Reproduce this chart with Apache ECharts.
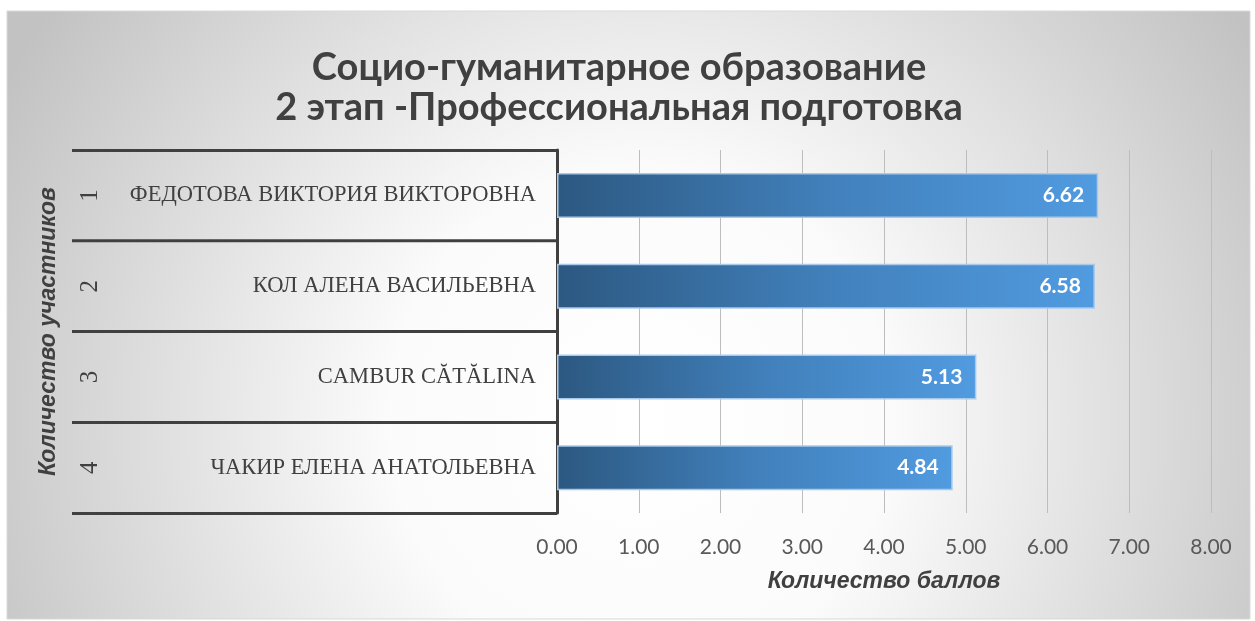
<!DOCTYPE html>
<html>
<head>
<meta charset="utf-8">
<script src="https://cdn.jsdelivr.net/npm/echarts@6/dist/echarts.min.js"></script>
<style>
  html, body { margin: 0; padding: 0; background: #fff; }
  #chart { width: 1255px; height: 621px; }
</style>
</head>
<body>
<div id="chart"></div>
<script>
var names = [
  "ФЕДОТОВА ВИКТОРИЯ ВИКТОРОВНА",
  "КОЛ АЛЕНА ВАСИЛЬЕВНА",
  "CAMBUR CĂTĂLINA",
  "ЧАКИР ЕЛЕНА АНАТОЛЬЕВНА"
];
var numbers = ["1", "2", "3", "4"];
var scores = [6.62, 6.58, 5.13, 4.84];

var myChart = echarts.init(document.getElementById("chart"));
myChart.setOption({
  animation: false,
  graphic: [
    {
      type: "rect",
      z: -10,
      silent: true,
      shape: { x: 7, y: 11, width: 1243, height: 608 },
      style: {
        fill: new echarts.graphic.RadialGradient(640, 420, 720, [
          { offset: 0, color: "#ffffff" },
          { offset: 0.35, color: "#fbfbfb" },
          { offset: 1, color: "#c2c2c2" }
        ], true),
        stroke: "#d9d9d9",
        lineWidth: 1
      }
    }
  ],
  title: {
    text: "Социо-гуманитарное образование\n2 этап -Профессиональная подготовка",
    left: 619,
    top: 48,
    padding: 0,
    textAlign: "center",
    textStyle: {
      fontFamily: "Lato",
      fontWeight: "bold",
      fontSize: 38,
      lineHeight: 40,
      color: "#404040"
    }
  },
  grid: {
    left: 557,
    right: 44,
    top: 150,
    bottom: 108
  },
  xAxis: {
    type: "value",
    min: 0,
    max: 8,
    interval: 1,
    name: "Количество баллов",
    nameLocation: "middle",
    nameGap: 57,
    nameTextStyle: {
      fontFamily: "Liberation Sans",
      fontWeight: "bold",
      fontStyle: "italic",
      fontSize: 23,
      color: "#404040"
    },
    axisLine: { show: false },
    axisTick: { show: false },
    splitLine: { show: true, lineStyle: { color: "#bdbdbd", width: 1 } },
    axisLabel: {
      margin: 24,
      fontFamily: "Lato",
      fontSize: 21,
      color: "#595959",
      formatter: function (v) { return v.toFixed(2); }
    }
  },
  yAxis: [
    {
      type: "category",
      data: names,
      inverse: true,
      name: "Количество участников",
      nameLocation: "middle",
      nameRotate: 90,
      nameGap: 497,
      nameTextStyle: {
        fontFamily: "Liberation Sans",
        fontWeight: "bold",
        fontStyle: "italic",
        fontSize: 23,
        color: "#404040"
      },
      axisLine: { show: true, lineStyle: { color: "#404040", width: 3 } },
      axisTick: {
        show: true,
        length: 485,
        interval: 0,
        alignWithLabel: false,
        lineStyle: { color: "#404040", width: 3 }
      },
      axisLabel: {
        margin: 21,
        interval: 0,
        fontFamily: "Liberation Serif",
        fontSize: 22.5,
        color: "#404040"
      }
    },
    {
      type: "category",
      data: numbers,
      inverse: true,
      position: "left",
      offset: 447,
      axisLine: { show: false },
      axisTick: { show: false },
      axisLabel: {
        rotate: 90,
        margin: 7,
        interval: 0,
        fontFamily: "Liberation Serif",
        fontSize: 25,
        color: "#404040"
      }
    }
  ],
  series: [
    {
      type: "bar",
      data: scores,
      barWidth: 45,
      itemStyle: {
        color: new echarts.graphic.LinearGradient(0, 0, 1, 0, [
          { offset: 0, color: "#2c5881" },
          { offset: 0.5, color: "#4180bb" },
          { offset: 1, color: "#519be0" }
        ]),
        borderColor: "#a9c9ea",
        borderWidth: 1.5
      },
      label: {
        show: true,
        position: "insideRight",
        distance: 14,
        fontFamily: "Lato",
        fontWeight: "bold",
        fontSize: 21,
        color: "#ffffff",
        formatter: function (p) { return p.value.toFixed(2); }
      }
    }
  ]
});
</script>
</body>
</html>
